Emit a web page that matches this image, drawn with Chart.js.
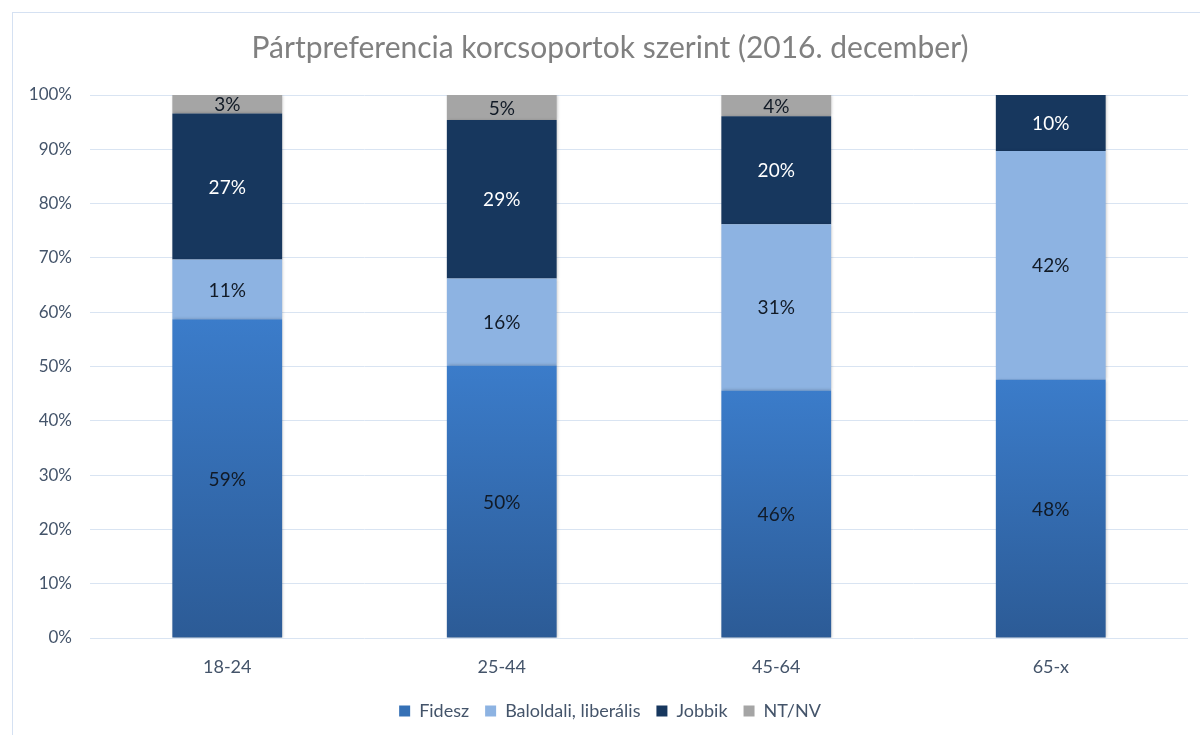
<!DOCTYPE html>
<html>
<head>
<meta charset="utf-8">
<script src="https://cdn.jsdelivr.net/npm/chart.js@4.4.1/dist/chart.umd.min.js"></script>
<style>
  html, body { margin: 0; padding: 0; background: #ffffff; }
  canvas { display: block; }
</style>
</head>
<body>
<canvas id="chart" width="1200" height="735"></canvas>
<script>
// ## data ##
const ageGroups = ["18-24", "25-44", "45-64", "65-x"];
const fidesz = [58.7, 50.2, 45.6, 47.6];
const baloldali = [11.0, 16.0, 30.6, 42.1];
const jobbik = [26.9, 29.2, 19.9, 10.3];
const ntnv = [3.4, 4.6, 3.9, 0];
const yTicks = [0, 10, 20, 30, 40, 50, 60, 70, 80, 90, 100];

const FONT = "Lato, 'Open Sans', sans-serif";
const AXIS_COLOR = "#44546a";

// per-bar vertical gradient for the Fidesz segments
function fideszFill(context) {
  const chart = context.chart;
  const yScale = chart.scales.y;
  if (!chart.chartArea || !yScale || context.type !== "data") {
    return "#3570b5";
  }
  const top = yScale.getPixelForValue(context.raw);
  const bottom = yScale.getPixelForValue(0);
  const grad = chart.ctx.createLinearGradient(0, top, 0, bottom);
  grad.addColorStop(0, "#3b7cca");
  grad.addColorStop(1, "#2c5b96");
  return grad;
}

// frame + white background
const framePlugin = {
  id: "frame",
  beforeDraw(chart) {
    const ctx = chart.ctx;
    ctx.save();
    ctx.fillStyle = "#ffffff";
    ctx.fillRect(0, 0, chart.width, chart.height);
    ctx.strokeStyle = "#d5e1f2";
    ctx.lineWidth = 1;
    ctx.strokeRect(12.5, 12.5, chart.width + 10, chart.height + 10);
    ctx.restore();
  },
  beforeDatasetsDraw(chart) {
    const ctx = chart.ctx;
    ctx.save();
    ctx.shadowColor = "rgba(0,0,0,0.22)";
    ctx.shadowBlur = 3;
    ctx.shadowOffsetX = 1;
    ctx.shadowOffsetY = 0;
  },
  afterDatasetsDraw(chart) {
    chart.ctx.restore();
  },
};

// value labels centred in each segment
const labelPlugin = {
  id: "segLabels",
  afterDraw(chart) {
    const ctx = chart.ctx;
    ctx.save();
    ctx.font = "19px " + FONT;
    ctx.textAlign = "center";
    ctx.textBaseline = "middle";
    chart.data.datasets.forEach((ds, di) => {
      const meta = chart.getDatasetMeta(di);
      meta.data.forEach((bar, i) => {
        const v = ds.data[i];
        if (!v) return;
        ctx.fillStyle = ds.labelColor;
        ctx.fillText(Math.round(v) + "%", bar.x, (bar.y + bar.base) / 2 + 1);
      });
    });
    ctx.restore();
  },
};

new Chart(document.getElementById("chart"), {
  type: "bar",
  data: {
    labels: ageGroups,
    datasets: [
      { label: "Fidesz", data: fidesz, backgroundColor: fideszFill, labelColor: "#111a26" },
      { label: "Baloldali, liberális", data: baloldali, backgroundColor: "#8db3e2", labelColor: "#111a26" },
      { label: "Jobbik", data: jobbik, backgroundColor: "#17375e", labelColor: "#ffffff" },
      { label: "NT/NV", data: ntnv, backgroundColor: "#a5a5a5", labelColor: "#111a26" },
    ],
  },
  options: {
    responsive: false,
    animation: false,
    layout: { padding: { left: 20, right: 0, top: 0, bottom: 5 } },
    datasets: {
      bar: { categoryPercentage: 1, barPercentage: 0.4, borderWidth: 0 },
    },
    plugins: {
      title: {
        display: true,
        text: "Pártpreferencia korcsoportok szerint (2016. december)",
        color: "#808080",
        font: { family: FONT, size: 30, weight: "normal" },
        padding: { top: 30, bottom: 29 },
      },
      legend: {
        position: "bottom",
        labels: {
          color: AXIS_COLOR,
          font: { family: FONT, size: 18 },
          boxWidth: 11,
          boxHeight: 11,
          padding: 16,
          generateLabels(chart) {
            const cols = ["#3570b5", "#8db3e2", "#17375e", "#a5a5a5"];
            return chart.data.datasets.map((ds, i) => ({
              text: ds.label,
              fillStyle: cols[i],
              strokeStyle: cols[i],
              lineWidth: 0,
              fontColor: AXIS_COLOR,
              datasetIndex: i,
            }));
          },
        },
      },
      tooltip: { enabled: false },
    },
    scales: {
      x: {
        stacked: true,
        grid: { display: false },
        border: { display: false },
        ticks: { color: AXIS_COLOR, font: { family: FONT, size: 18 }, padding: 10 },
        afterFit(scale) { scale.height = 48; },
      },
      y: {
        stacked: true,
        min: 0,
        max: 100,
        afterBuildTicks(scale) { scale.ticks = yTicks.map((v) => ({ value: v })); },
        grid: { color: "#d9e4f2", lineWidth: 1, drawTicks: false },
        border: { display: false },
        ticks: {
          color: AXIS_COLOR,
          font: { family: FONT, size: 17 },
          padding: 18,
          callback: (v) => v + "%",
        },
        afterFit(scale) { scale.width = 70; },
      },
      // empty right-hand spacer so the plot ends where the reference does
      yRight: {
        position: "right",
        min: 0,
        max: 100,
        grid: { display: false },
        border: { display: false },
        ticks: { display: false },
        afterFit(scale) { scale.width = 12; },
      },
    },
  },
  plugins: [framePlugin, labelPlugin],
});
</script>
</body>
</html>
